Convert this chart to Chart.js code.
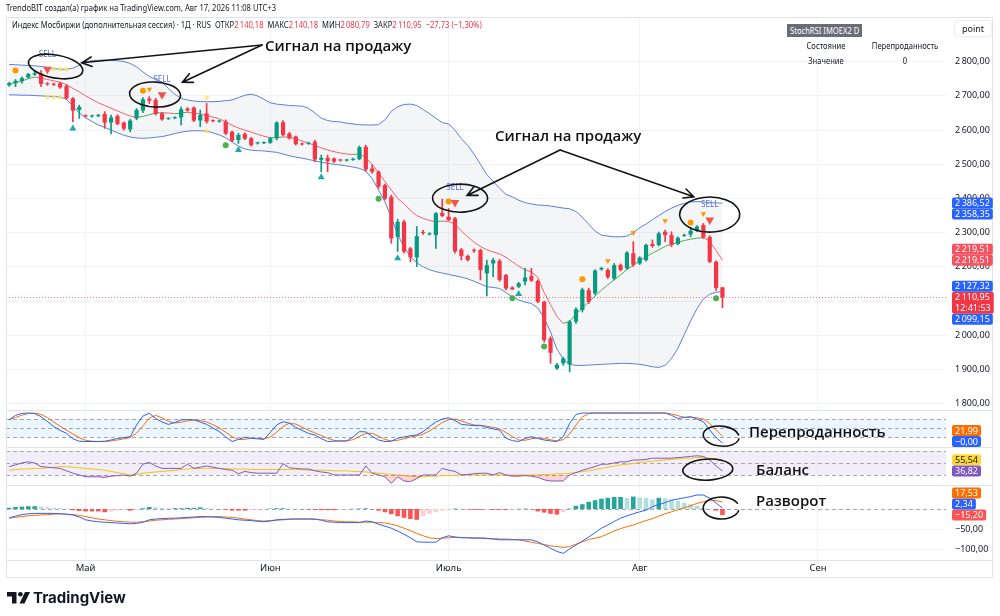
<!DOCTYPE html>
<html lang="ru">
<head>
<meta charset="utf-8">
<title>IMOEX2 D</title>
<script src="https://cdn.jsdelivr.net/npm/chart.js@4.4.1/dist/chart.umd.min.js"></script>
<style>
  html, body { margin: 0; padding: 0; background: #fff; }
  body { width: 1000px; height: 616px; position: relative; overflow: hidden; color: #131722;
         font-family: 'Noto Sans', sans-serif; }
  #c { position: absolute; left: 0; top: 0; }
  .abs { position: absolute; white-space: nowrap; line-height: 1; }
  .narrow { transform: scaleX(0.8); transform-origin: 0 0; }
  .c { transform: translateX(-50%) scaleX(0.8); }
  #made { left: 6px; top: 3px; font-size: 9.5px; }
  #legend { left: 12px; top: 20px; font-size: 9.5px; }
  #legend .v { color: #f23645; }
  #srsi { left: 787px; top: 24px; width: 75px; height: 13px; background: #6a6d78; }
  #srsi span { position: absolute; left: 3px; top: 1.5px; color: #fff; font-size: 9.5px; }
  .cell { font-size: 9.5px; }
  #pt { left: 955px; top: 21px; width: 36px; height: 15px; line-height: 15px; font-size: 9px; text-align: center;
        background: #fff; border-radius: 3px; box-shadow: 0 0 2px rgba(0,0,0,0.25); }
  .note { font-family: 'Open Sans', sans-serif; font-weight: 600; font-size: 15px; color: #111; }
  #logo { left: 7px; top: 590px; display: flex; align-items: center; gap: 3px; }
  #logo span { font-family: Inter, 'Noto Sans', sans-serif; font-weight: 700; font-size: 15px; color: #131722; }
</style>
</head>
<body>
<canvas id="c" width="1000" height="590"></canvas>

<div id="made" class="abs narrow">TrendoBIT создал(а) график на TradingView.com, Авг 17, 2026 11:08 UTC+3</div>
<div id="legend" class="abs narrow"></div>
<div id="srsi" class="abs"><span class="abs narrow">StochRSI IMOEX2 D</span></div>
<div class="abs cell c" style="left:826px;top:41px">Состояние</div>
<div class="abs cell c" style="left:905px;top:41px">Перепроданность</div>
<div class="abs cell c" style="left:826px;top:56px">Значение</div>
<div class="abs cell c" style="left:905px;top:56px">0</div>
<div id="pt" class="abs">point</div>

<div class="abs note" style="left:265px;top:38px">Сигнал на продажу</div>
<div class="abs note" style="left:495px;top:128px">Сигнал на продажу</div>
<div class="abs note" style="left:749px;top:424px">Перепроданность</div>
<div class="abs note" style="left:756px;top:462px">Баланс</div>
<div class="abs note" style="left:756px;top:493px">Разворот</div>

<div id="logo" class="abs">
  <svg width="23" height="12" viewBox="0 0 23 12"><path d="M0 0H9.5V11.5H5V4.6H0Z M18 0H23L17.5 11.5H12.5Z" fill="#131722"/><circle cx="13.4" cy="2.3" r="2.3" fill="#131722"/></svg>
  <span>TradingView</span>
</div>

<script>
'use strict';

// daily candles, Индекс МосБиржи (доп. сессия)
let opens = [
  2731, 2737, 2743, 2754, 2762, 2766, 2737, 2735, 2737, 2729,
  2693, 2659, 2643, 2640, 2641, 2647, 2622, 2641, 2622, 2602,
  2634, 2657, 2692, 2688, 2649, 2633, 2635, 2637, 2663, 2666,
  2628, 2649, 2628, 2625, 2625, 2595, 2571, 2589, 2576, 2561,
  2562, 2563, 2576, 2623, 2590, 2581, 2561, 2560, 2566, 2513,
  2519, 2517, 2513, 2511, 2513, 2515, 2551, 2488, 2478, 2439,
  2405, 2288, 2332, 2254, 2228, 2301, 2295, 2293, 2358, 2347,
  2342, 2251, 2232, 2250, 2249, 2181, 2210, 2218, 2176, 2140,
  2142, 2157, 2173, 2159, 2098, 1991, 1903, 1918, 1915, 2040,
  2074, 2132, 2123, 2193, 2191, 2166, 2206, 2196, 2240, 2210,
  2220, 2267, 2264, 2303, 2293, 2267, 2291, 2295, 2306, 2322,
  2288, 2215, 2140.18
];
let highs = [
  2740, 2748, 2756, 2766, 2774, 2774, 2739, 2737, 2740, 2733,
  2695, 2673, 2645, 2644, 2646, 2654, 2644, 2645, 2624, 2632,
  2663, 2695, 2698, 2693, 2651, 2636, 2639, 2667, 2666, 2668,
  2659, 2678, 2630, 2629, 2630, 2597, 2591, 2592, 2579, 2565,
  2566, 2579, 2625, 2628, 2594, 2583, 2563, 2565, 2571, 2527,
  2527, 2519, 2515, 2515, 2518, 2554, 2556, 2498, 2481, 2442,
  2410, 2339, 2337, 2257, 2318, 2307, 2300, 2359, 2398, 2371,
  2345, 2254, 2235, 2253, 2252, 2220, 2225, 2222, 2178, 2142,
  2155, 2196, 2196, 2162, 2100, 1996, 1918, 1936, 2044, 2080,
  2138, 2138, 2192, 2199, 2195, 2210, 2209, 2245, 2274, 2230,
  2267, 2279, 2302, 2308, 2303, 2288, 2296, 2313, 2321, 2327,
  2291, 2218, 2140.18
];
let lows = [
  2728, 2727, 2737, 2752, 2760, 2727, 2731, 2730, 2722, 2690,
  2625, 2634, 2638, 2638, 2639, 2605, 2589, 2615, 2600, 2595,
  2630, 2651, 2678, 2644, 2628, 2631, 2633, 2615, 2655, 2625,
  2610, 2620, 2624, 2623, 2586, 2566, 2561, 2572, 2553, 2559,
  2560, 2561, 2571, 2583, 2573, 2556, 2556, 2558, 2508, 2478,
  2478, 2505, 2509, 2509, 2511, 2513, 2480, 2474, 2430, 2396,
  2269, 2245, 2240, 2215, 2201, 2295, 2293, 2254, 2347, 2335,
  2240, 2220, 2217, 2242, 2162, 2115, 2171, 2158, 2133, 2133,
  2139, 2147, 2157, 2095, 1980, 1918, 1900, 1912, 1893, 2035,
  2068, 2093, 2118, 2190, 2166, 2162, 2188, 2193, 2201, 2207,
  2217, 2257, 2261, 2274, 2259, 2264, 2289, 2288, 2303, 2283,
  2212, 2131, 2080.79
];
let closes = [
  2737, 2744, 2752, 2764, 2766, 2735, 2734, 2733, 2725, 2693,
  2657, 2668, 2640, 2642, 2644, 2622, 2637, 2618, 2604, 2628,
  2659, 2690, 2686, 2647, 2631, 2635, 2637, 2661, 2657, 2628,
  2644, 2625, 2626, 2627, 2590, 2569, 2586, 2575, 2556, 2563,
  2564, 2576, 2622, 2586, 2576, 2559, 2558, 2563, 2514, 2519,
  2509, 2508, 2511, 2513, 2516, 2550, 2485, 2478, 2435, 2400,
  2283, 2332, 2245, 2228, 2290, 2299, 2298, 2357, 2349, 2337,
  2245, 2232, 2220, 2247, 2191, 2205, 2220, 2162, 2137, 2135,
  2152, 2169, 2160, 2098, 1986, 1949, 1914, 1932, 2040, 2076,
  2134, 2098, 2189, 2197, 2170, 2205, 2191, 2242, 2206, 2227,
  2264, 2261, 2298, 2293, 2264, 2285, 2294, 2306, 2318, 2286,
  2215, 2138.68, 2110.95
];

// bollinger bands and the moving average line
let bbUpper = [
  2792, 2791, 2790, 2789, 2788, 2786, 2783, 2780, 2778, 2778,
  2781, 2790, 2800, 2803, 2804, 2805, 2804, 2803, 2800, 2795,
  2785, 2770, 2757, 2748, 2740, 2722, 2705, 2693, 2688, 2685,
  2683, 2683, 2683, 2684, 2686, 2688, 2695, 2702, 2705, 2700,
  2690, 2680, 2676, 2674, 2672, 2671, 2670, 2664, 2650, 2635,
  2628, 2625, 2624, 2620, 2618, 2616, 2615, 2615, 2616, 2630,
  2655, 2668, 2675, 2676, 2672, 2660, 2648, 2635, 2622, 2618,
  2600, 2575, 2555, 2530, 2500, 2470, 2450, 2430, 2412, 2405,
  2395, 2388, 2384, 2381, 2380, 2378, 2375, 2372, 2370, 2362,
  2345, 2325, 2305, 2293, 2290, 2288, 2288, 2290, 2300, 2315,
  2325, 2338, 2350, 2362, 2372, 2380, 2386, 2390, 2391, 2390,
  2388, 2387, 2386.52
];
let bbLower = [
  2703, 2703, 2702, 2702, 2701, 2700, 2699, 2698, 2697, 2690,
  2670, 2650, 2636, 2625, 2615, 2608, 2600, 2592, 2585, 2580,
  2577, 2576, 2577, 2579, 2581, 2585, 2590, 2594, 2597, 2598,
  2598, 2597, 2592, 2586, 2578, 2565, 2553, 2545, 2541, 2540,
  2539, 2537, 2535, 2530, 2525, 2521, 2518, 2514, 2510, 2506,
  2503, 2500, 2498, 2495, 2492, 2488, 2480, 2458, 2425, 2390,
  2345, 2295, 2258, 2230, 2212, 2200, 2192, 2186, 2182, 2178,
  2174, 2170, 2165, 2158, 2150, 2142, 2140, 2137, 2125, 2112,
  2103, 2097, 2093, 2080, 2050, 2010, 1960, 1930, 1915, 1912,
  1912, 1913, 1914, 1915, 1916, 1917, 1918, 1918, 1917, 1915,
  1912, 1908, 1906, 1912, 1932, 1962, 2002, 2042, 2078, 2106,
  2120, 2126, 2127.32
];
let maLine = [
  2735, 2739, 2744, 2750, 2755, 2752, 2748, 2744, 2740, 2733,
  2722, 2712, 2700, 2690, 2680, 2672, 2664, 2656, 2648, 2641,
  2637, 2640, 2645, 2650, 2651, 2650, 2648, 2650, 2652, 2650,
  2647, 2643, 2638, 2633, 2624, 2614, 2606, 2600, 2594, 2588,
  2582, 2578, 2578, 2580, 2579, 2575, 2568, 2562, 2555, 2548,
  2542, 2537, 2533, 2530, 2529, 2530, 2520, 2500, 2475, 2450,
  2425, 2400, 2385, 2365, 2350, 2342, 2336, 2332, 2334, 2333,
  2325, 2305, 2288, 2272, 2260, 2250, 2244, 2238, 2228, 2215,
  2202, 2192, 2185, 2170, 2125, 2090, 2055, 2035, 2040, 2062,
  2080, 2097, 2115, 2132, 2148, 2162, 2177, 2192, 2205, 2218,
  2230, 2240, 2250, 2260, 2266, 2272, 2277, 2281, 2284, 2286,
  2275, 2248, 2219.51
];

// signal markers: bar index + price
let sellIdx = [6, 24, 70, 110];
let sellPx = [2778, 2703, 2388, 2337];
let warnIdx = [22, 94, 98, 103, 109];
let warnPx = [2719, 2218, 2300, 2335, 2355];
let topDotIdx = [1, 21, 69, 90, 107];
let topDotPx = [2774, 2715, 2391, 2164, 2330];
let buyTriIdx = [10, 36, 49, 61, 80];
let buyTriPx = [2605, 2542, 2462, 2225, 2121];
let lowDotIdx = [34, 58, 79, 84, 111];
let lowDotPx = [2556, 2399, 2108, 1967, 2108];
let squeezeIdx = [7, 8, 9, 6, 7, 8, 31, 31];
let squeezePx = [2779, 2778, 2778, 2697, 2697, 2696, 2695, 2597];

// StochRSI
let stochK = [
  77, 92, 99, 100, 98, 88, 72, 55, 42, 32,
  14, 6, 5, 5, 5, 6, 10, 15, 18, 21,
  60, 90, 99, 82, 70, 62, 68, 77, 78, 77,
  70, 62, 50, 38, 20, 5, 12, 19, 16, 14,
  12, 35, 60, 71, 66, 52, 42, 32, 27, 15,
  5, 6, 7, 7, 20, 38, 37, 22, 10, 5,
  6, 16, 20, 24, 27, 38, 55, 70, 80, 84,
  75, 62, 60, 58, 58, 52, 47, 43, 16, 8,
  5, 15, 21, 15, 10, 7, 5, 21, 65, 95,
  100, 100, 100, 100, 100, 100, 100, 100, 100, 100,
  100, 100, 100, 100, 92, 82, 85, 88, 80, 71,
  43, 18, 0
];
let stochD = [
  78, 85, 93, 98, 100, 95, 85, 70, 56, 43,
  30, 18, 9, 6, 5, 5, 7, 10, 14, 18,
  33, 57, 83, 92, 84, 72, 67, 69, 74, 77,
  75, 70, 61, 50, 36, 21, 12, 12, 16, 16,
  14, 20, 36, 55, 66, 63, 53, 42, 34, 25,
  16, 9, 6, 7, 11, 22, 32, 32, 23, 12,
  7, 9, 14, 20, 24, 30, 40, 54, 68, 78,
  80, 74, 66, 60, 59, 56, 52, 47, 35, 22,
  10, 9, 14, 17, 15, 11, 7, 11, 30, 60,
  87, 98, 100, 100, 100, 100, 100, 100, 100, 100,
  100, 100, 100, 100, 97, 91, 86, 85, 84, 80,
  65, 44, 21.99
];

// RSI and its average
let rsiLine = [
  44, 47, 50, 52, 50, 44, 43, 42, 41, 37,
  33, 30, 27, 27, 27, 26, 28, 29, 30, 28,
  33, 48, 51, 45, 41, 41, 41, 41, 48, 41,
  43, 45, 43, 41, 39, 38, 32, 36, 34, 33,
  33, 33, 33, 49, 42, 41, 40, 40, 37, 35,
  34, 30, 30, 30, 30, 30, 45, 33, 30, 27,
  16, 27, 20, 19, 24, 30, 30, 30, 41, 38,
  36, 30, 31, 32, 33, 33, 30, 34, 30, 28,
  28, 29, 28, 26, 22, 20, 20, 20, 30, 34,
  38, 41, 44, 48, 48, 50, 52, 52, 55, 55,
  56, 58, 58, 58, 58, 59, 60, 61, 62, 61,
  55, 45, 36.82
];
let rsiMa = [
  38, 39, 40, 40, 41, 41, 42, 43, 44, 44,
  43, 42, 41, 40, 39, 38, 36, 34, 32, 30,
  31, 33, 34, 35, 36, 37, 38, 39, 40, 41,
  41, 41, 41, 41, 41, 40, 40, 40, 39, 39,
  39, 39, 39, 39, 39, 39, 39, 38, 38, 38,
  38, 37, 37, 37, 36, 36, 35, 34, 33, 32,
  31, 30, 29, 28, 27, 27, 28, 28, 29, 29,
  29, 30, 30, 30, 30, 30, 30, 30, 30, 30,
  30, 30, 30, 30, 31, 31, 32, 32, 33, 34,
  36, 37, 39, 41, 43, 45, 47, 48, 49, 51,
  52, 53, 54, 55, 56, 57, 58, 58, 59, 59,
  58, 57, 55.54
];

// MACD
let macdLine = [
  -22, -18, -14, -12, -11, -11, -11, -11, -12, -13,
  -15, -20, -27, -30, -32, -33, -34, -35, -36, -37,
  -36, -33, -27, -25, -24, -23, -23, -22, -21, -20,
  -19, -19, -20, -21, -23, -25, -27, -28, -29, -31,
  -32, -30, -27, -26, -25, -25, -25, -25, -25, -28,
  -32, -33, -34, -34, -34, -34, -30, -32, -38, -43,
  -48, -55, -63, -72, -82, -83, -83, -83, -72, -67,
  -70, -72, -72, -73, -73, -74, -75, -77, -77, -77,
  -77, -77, -77, -82, -90, -98, -106, -111, -100, -90,
  -80, -70, -59, -48, -40, -31, -23, -17, -12, -7,
  -3, 6, 11, 16, 22, 25, 28, 31, 35, 35,
  27, 15, 2.34
];
let macdSignal = [
  -23, -21, -19, -17, -16, -15, -14, -13, -12, -13,
  -14, -16, -19, -22, -25, -27, -29, -31, -32, -33,
  -33, -32, -30, -28, -27, -26, -25, -24, -23, -22,
  -21, -20, -19, -19, -20, -21, -23, -25, -27, -29,
  -30, -29, -28, -27, -26, -25, -25, -25, -26, -27,
  -28, -30, -31, -32, -32, -33, -33, -33, -34, -35,
  -38, -42, -48, -54, -61, -67, -72, -74, -73, -72,
  -71, -71, -72, -72, -72, -73, -74, -75, -75, -76,
  -77, -80, -83, -86, -89, -92, -94, -96, -94, -88,
  -82, -76, -73, -69, -62, -55, -49, -44, -40, -34,
  -29, -24, -18, -12, -7, -2, 3, 8, 14, 18,
  22, 21, 17.53
];
let macdHist = [
  3, 5, 6, 7, 7, 6, 4, 3, 2, 1,
  -3, -5, -6, -6, -6, -8, -6, -4, -3, -4,
  -2, 2, 5, 4, 3, 2, 2, 2, 3, 3,
  4, 2, 1, -1, -2, -4, -4, -4, -3, -2,
  -1, 1, 2, 2, 1, 0.5, -1, -1.5, -2, -3,
  -3, -3, -2, -1, 0.5, 1, 1.5, -1, -4, -8,
  -13, -18, -22, -25, -27, -18, -12, -8, -4, -2,
  1, 0.5, -1, -2, -2, -1.5, -2, -2, -2, -1,
  0.5, 1, -1, -6, -9, -12, -14, -8, 1, 8,
  12, 18, 22, 26, 28, 30, 30, 27, 31, 29,
  28, 24, 28, 27, 24, 20, 16, 12, 8, 3,
  1, -4, -15.2
];

// axes
let monthTicks = [12, 41, 69, 99, 127];
let monthNames = ['Май', 'Июн', 'Июль', 'Авг', 'Сен'];
let priceTicks = [1800, 1900, 2000, 2100, 2200, 2300, 2400, 2500, 2600, 2700, 2800];
let macdTicks = [-100, -50];
let stochLevels = [80, 50, 20];
let rsiLevels = [70, 50, 30];

// price-scale tags (first one in each list keeps its place)
let mainTags = [2110.95, 2386.52, 2358.35, 2219.51, 2219.51, 2127.32, 2099.15];
let stochTags = [-0, 21.99];
let rsiTags = [55.54, 36.82];
let macdTags = [-15.20, 2.34, 17.53];

// ---- styles ----
const UP = '#089981';
const DOWN = '#f23645';
const FONT = "'Noto Sans', sans-serif";
const mainTagColors = ['#f23645', '#2962ff', '#2962ff', '#f7525f', '#f7525f', '#2962ff', '#2962ff'];
const stochTagColors = ['#2962ff', '#ff6d00'];
const rsiTagColors = ['#fdd835', '#7e57c2'];
const macdTagColors = ['#ff5252', '#2962ff', '#ff6d00'];

// hand drawn notes, anchored to bar index / axis value
const rings = [
  {axis: 'y', i: 7.3, v: 2786, rx: 27.5, ry: 11.5, rot: 0.18},
  {axis: 'y', i: 22.9, v: 2704, rx: 25.5, ry: 12.5, rot: 0.05},
  {axis: 'y', i: 70.8, v: 2401, rx: 27.5, ry: 14, rot: 0},
  {axis: 'y', i: 110, v: 2353, rx: 30, ry: 17.5, rot: 0},
  {axis: 'yS', i: 111.8, v: 23, rx: 18, ry: 10, rot: 0.1, gap: 0.6},
  {axis: 'yR', i: 109.7, v: 39, rx: 25, ry: 10.5, rot: -0.05},
  {axis: 'yM', i: 111.8, v: 2.5, rx: 18, ry: 11, rot: 0, gap: 0.9}
];
const arrows = [
  {from: [39.7, 2849], to: [11.4, 2797]},
  {from: [39.7, 2849], to: [27.2, 2740]},
  {from: [86.5, 2542], to: [71.9, 2409]},
  {from: [86.5, 2542], to: [107.5, 2405]}
];

function fmt(v) {
  let neg = v < 0 || Object.is(v, -0);
  let s = Math.abs(v).toFixed(2).split('.');
  let whole = s[0].replace(/\B(?=(\d{3})+(?!\d))/g, '\u2009');
  return (neg ? '−' : '') + whole + ',' + s[1];
}

function pts(arr) {
  return arr.map((v, i) => ({x: i, y: v}));
}
function pick(idx, vals) {
  return idx.map((x, k) => ({x: x, y: vals[k]}));
}
function candleColor(ctx) {
  let i = ctx.dataIndex;
  return closes[i] >= opens[i] ? UP : DOWN;
}
function histColor(ctx) {
  let i = ctx.dataIndex;
  let h = macdHist[i];
  let prev = i > 0 ? macdHist[i - 1] : h;
  if (h >= 0) return h >= prev ? '#26a69a' : '#b2dfdb';
  return h <= prev ? '#ff5252' : '#ffcdd2';
}

// legend line from the last candle
let last = closes.length - 1;
let chg = closes[last] - closes[last - 1];
let pct = chg / closes[last - 1] * 100;
document.getElementById('legend').innerHTML =
  'Индекс Мосбиржи (дополнительная сессия) · 1Д · RUS&nbsp;&nbsp;ОТКР<span class="v">' + fmt(opens[last]) +
  '</span>&nbsp;&nbsp;МАКС<span class="v">' + fmt(highs[last]) +
  '</span>&nbsp;&nbsp;МИН<span class="v">' + fmt(lows[last]) +
  '</span>&nbsp;&nbsp;ЗАКР<span class="v">' + fmt(closes[last]) +
  '</span>&nbsp;&nbsp;<span class="v">' + fmt(chg) + ' (' + fmt(pct) + '%)</span>';

function hline(ctx, a, y) {
  ctx.beginPath();
  ctx.moveTo(a.left, Math.round(y) + 0.5);
  ctx.lineTo(a.right, Math.round(y) + 0.5);
  ctx.stroke();
}

function placeTags(scale, values, colors, subIndex) {
  let placed = [];
  values.forEach((v, k) => {
    let want = scale.getPixelForValue(v);
    let h = k === subIndex ? 22 : 11;
    let top = want - 5.5;
    top = Math.min(Math.max(top, scale.top), scale.bottom - h);
    for (let n = 0; n < 10; n++) {
      let moved = false;
      placed.forEach(p => {
        if (top < p.top + p.h - 0.01 && top + h > p.top + 0.01) {
          top = want <= p.want ? p.top - h : p.top + p.h;
          moved = true;
        }
      });
      if (!moved) break;
    }
    placed.push({top: top, h: h, want: want, v: v, bg: colors[k], sub: k === subIndex});
  });
  return placed;
}

function drawTags(chart, scale, values, colors, subIndex) {
  let ctx = chart.ctx;
  let x = chart.chartArea.right + 6;
  ctx.font = '9px ' + FONT;
  ctx.textBaseline = 'middle';
  ctx.textAlign = 'left';
  placeTags(scale, values, colors, subIndex).forEach(p => {
    let text = fmt(p.v);
    let w = ctx.measureText(text).width + 6;
    if (p.sub) w = Math.max(w, ctx.measureText('12:41:53').width + 6);
    ctx.fillStyle = p.bg;
    ctx.beginPath();
    ctx.roundRect(x, p.top, w, p.h, 2);
    ctx.fill();
    ctx.fillStyle = p.bg === '#fdd835' ? '#131722' : '#fff';
    ctx.fillText(text, x + 3, p.top + 6);
    if (p.sub) ctx.fillText('12:41:53', x + 3, p.top + 16.5);
  });
}

const paneDecor = {
  id: 'paneDecor',
  beforeDatasetsDraw(chart) {
    let ctx = chart.ctx, a = chart.chartArea, s = chart.scales;
    ctx.save();
    ctx.fillStyle = 'rgba(33,150,243,0.09)';
    ctx.fillRect(a.left, s.yS.getPixelForValue(80), a.width, s.yS.getPixelForValue(20) - s.yS.getPixelForValue(80));
    ctx.fillStyle = 'rgba(126,87,194,0.1)';
    ctx.fillRect(a.left, s.yR.getPixelForValue(70), a.width, s.yR.getPixelForValue(30) - s.yR.getPixelForValue(70));
    ctx.strokeStyle = '#a3a6af';
    ctx.lineWidth = 1;
    ctx.setLineDash([4, 3]);
    stochLevels.forEach(v => hline(ctx, a, s.yS.getPixelForValue(v)));
    rsiLevels.forEach(v => hline(ctx, a, s.yR.getPixelForValue(v)));
    hline(ctx, a, s.yM.getPixelForValue(0));
    ctx.restore();
  },
  afterDatasetsDraw(chart) {
    let ctx = chart.ctx, a = chart.chartArea, s = chart.scales;
    ctx.save();
    ctx.strokeStyle = 'rgba(242,54,69,0.7)';
    ctx.setLineDash([1, 2]);
    hline(ctx, a, s.y.getPixelForValue(closes[last]));
    ctx.setLineDash([]);
    ctx.fillStyle = '#4f6fd8';
    ctx.font = '8px ' + FONT;
    ctx.textAlign = 'center';
    ctx.textBaseline = 'middle';
    sellIdx.forEach((i, k) => {
      ctx.fillText('SELL', s.x.getPixelForValue(i), s.y.getPixelForValue(sellPx[k]) - 15);
    });
    ctx.restore();
  },
  afterDraw(chart) {
    let ctx = chart.ctx, a = chart.chartArea, s = chart.scales;
    ctx.save();
    ctx.strokeStyle = '#e0e3eb';
    ctx.lineWidth = 1;
    [s.yS.top, s.yR.top, s.yM.top, a.bottom].forEach(y => {
      ctx.beginPath();
      ctx.moveTo(6, Math.round(y) + 0.5);
      ctx.lineTo(993, Math.round(y) + 0.5);
      ctx.stroke();
    });
    ctx.strokeRect(6.5, 17.5, 986, 560);

    drawTags(chart, s.y, mainTags, mainTagColors, 0);
    drawTags(chart, s.yS, stochTags, stochTagColors, -1);
    drawTags(chart, s.yR, rsiTags, rsiTagColors, -1);
    drawTags(chart, s.yM, macdTags, macdTagColors, -1);

    // hand drawn rings and arrows
    ctx.strokeStyle = '#141414';
    ctx.lineWidth = 1.6;
    ctx.lineCap = 'round';
    rings.forEach(r => {
      let cx = s.x.getPixelForValue(r.i);
      let cy = s[r.axis].getPixelForValue(r.v);
      let gap = r.gap || 0;
      ctx.beginPath();
      ctx.ellipse(cx, cy, r.rx, r.ry, r.rot, gap / 2 - 0.2, Math.PI * 2 - gap / 2 + (gap ? 0 : 0.25));
      ctx.stroke();
    });
    arrows.forEach(ar => {
      let x0 = s.x.getPixelForValue(ar.from[0]), y0 = s.y.getPixelForValue(ar.from[1]);
      let x1 = s.x.getPixelForValue(ar.to[0]), y1 = s.y.getPixelForValue(ar.to[1]);
      let ang = Math.atan2(y1 - y0, x1 - x0);
      ctx.beginPath();
      ctx.moveTo(x0, y0);
      ctx.lineTo(x1, y1);
      ctx.moveTo(x1 - 11 * Math.cos(ang - 0.45), y1 - 11 * Math.sin(ang - 0.45));
      ctx.lineTo(x1, y1);
      ctx.lineTo(x1 - 11 * Math.cos(ang + 0.45), y1 - 11 * Math.sin(ang + 0.45));
      ctx.stroke();
    });
    ctx.restore();
  }
};

Chart.defaults.font.family = FONT;
Chart.defaults.color = '#131722';

const lineBase = {type: 'line', pointRadius: 0, borderWidth: 1, tension: 0, fill: false};

let chartObject = {
  type: 'line',
  data: {
    datasets: [
      {type: 'line', data: pick(sellIdx, sellPx), showLine: false, pointStyle: 'triangle', rotation: 180,
       pointRadius: 5, backgroundColor: '#f0544f', borderWidth: 0, yAxisID: 'y', order: -3},
      {type: 'line', data: pick(warnIdx, warnPx), showLine: false, pointStyle: 'triangle', rotation: 180,
       pointRadius: 3.2, backgroundColor: '#ff9800', borderWidth: 0, yAxisID: 'y', order: -3},
      {type: 'line', data: pick(topDotIdx, topDotPx), showLine: false, pointStyle: 'circle',
       pointRadius: 3, backgroundColor: '#ff9800', borderWidth: 0, yAxisID: 'y', order: -3},
      {type: 'line', data: pick(buyTriIdx, buyTriPx), showLine: false, pointStyle: 'triangle',
       pointRadius: 4, backgroundColor: '#1fa8a8', borderWidth: 0, yAxisID: 'y', order: -3},
      {type: 'line', data: pick(lowDotIdx, lowDotPx), showLine: false, pointStyle: 'circle',
       pointRadius: 3, backgroundColor: '#4caf50', borderWidth: 0, yAxisID: 'y', order: -3},
      {type: 'line', data: pick(squeezeIdx, squeezePx), showLine: false, pointStyle: 'rect',
       pointRadius: 2.8, backgroundColor: 'rgba(255,228,80,0.75)', borderWidth: 0, yAxisID: 'y', order: -2},
      {type: 'bar', data: opens.map((o, i) => ({x: i, y: [o, closes[i]]})), backgroundColor: candleColor,
       barPercentage: 0.66, categoryPercentage: 1, grouped: false, minBarLength: 1, yAxisID: 'y', order: 1},
      {type: 'bar', data: lows.map((l, i) => ({x: i, y: [l, highs[i]]})), backgroundColor: candleColor,
       barThickness: 1, grouped: false, yAxisID: 'y', order: 2},
      Object.assign({}, lineBase, {data: pts(maLine), borderColor: '#f4606c', yAxisID: 'y', order: 3,
       segment: {borderColor: ctx => ctx.p1.parsed.y >= ctx.p0.parsed.y ? '#4caf50' : '#f4606c'}}),
      Object.assign({}, lineBase, {data: pts(bbUpper), borderColor: '#5b7fd9', yAxisID: 'y', order: 4,
       fill: '+1', backgroundColor: 'rgba(120,123,134,0.08)'}),
      Object.assign({}, lineBase, {data: pts(bbLower), borderColor: '#5b7fd9', yAxisID: 'y', order: 4}),
      Object.assign({}, lineBase, {data: pts(stochD), borderColor: '#ff6d00', yAxisID: 'yS', order: 5}),
      Object.assign({}, lineBase, {data: pts(stochK), borderColor: '#2962ff', yAxisID: 'yS', order: 4}),
      Object.assign({}, lineBase, {data: pts(rsiMa), borderColor: '#f5c400', yAxisID: 'yR', order: 5}),
      Object.assign({}, lineBase, {data: pts(rsiLine), borderColor: '#7e57c2', yAxisID: 'yR', order: 4,
       fill: {target: {value: 30}, above: 'rgba(0,0,0,0)', below: 'rgba(242,54,69,0.22)'}}),
      {type: 'bar', data: pts(macdHist), backgroundColor: histColor, barPercentage: 0.72, categoryPercentage: 1,
       grouped: false, yAxisID: 'yM', order: 6},
      Object.assign({}, lineBase, {data: pts(macdSignal), borderColor: '#ff6d00', yAxisID: 'yM', order: 5}),
      Object.assign({}, lineBase, {data: pts(macdLine), borderColor: '#2962ff', yAxisID: 'yM', order: 4})
    ]
  },
  options: {
    responsive: false,
    animation: false,
    events: [],
    layout: {padding: {left: 6, right: 0, top: 17, bottom: 0}},
    plugins: {legend: {display: false}, tooltip: {enabled: false}},
    scales: {
      x: {
        type: 'linear', min: -0.5, max: 147.1, offset: false, position: 'bottom',
        grid: {color: '#f0f3fa', drawTicks: false, offset: false},
        border: {display: false},
        afterBuildTicks: scale => { scale.ticks = monthTicks.map(v => ({value: v})); },
        afterFit: scale => { scale.height = 30; },
        ticks: {autoSkip: false, maxRotation: 0, padding: 3, font: {size: 9.5},
                callback: (v, i) => monthNames[i]}
      },
      y: {
        type: 'linear', position: 'right', stack: 'panes', stackWeight: 393,
        min: 1781.6, max: 2930.7, beginAtZero: false,
        grid: {color: '#f0f3fa', drawTicks: false},
        border: {display: false},
        afterBuildTicks: scale => { scale.ticks = priceTicks.map(v => ({value: v})); },
        afterFit: scale => { scale.width = 54; },
        ticks: {padding: 9, font: {size: 9}, callback: v => fmt(v)}
      },
      yS: {
        type: 'linear', position: 'right', stack: 'panes', stackWeight: 37,
        min: -13.3, max: 110, beginAtZero: false,
        grid: {display: false}, border: {display: false}, ticks: {display: false},
        afterFit: scale => { scale.width = 54; }
      },
      yR: {
        type: 'linear', position: 'right', stack: 'panes', stackWeight: 38,
        min: 13.33, max: 76.67, beginAtZero: false,
        grid: {display: false}, border: {display: false}, ticks: {display: false},
        afterFit: scale => { scale.width = 54; }
      },
      yM: {
        type: 'linear', position: 'right', stack: 'panes', stackWeight: 75,
        min: -127.5, max: 60, beginAtZero: false,
        grid: {color: '#f0f3fa', drawTicks: false},
        border: {display: false},
        afterBuildTicks: scale => { scale.ticks = macdTicks.map(v => ({value: v})); },
        afterFit: scale => { scale.width = 54; },
        ticks: {padding: 9, font: {size: 9}, callback: v => fmt(v)}
      }
    }
  },
  plugins: [paneDecor]
};

let myChart = new Chart(document.getElementById('c').getContext('2d'), chartObject);
</script>
</body>
</html>
